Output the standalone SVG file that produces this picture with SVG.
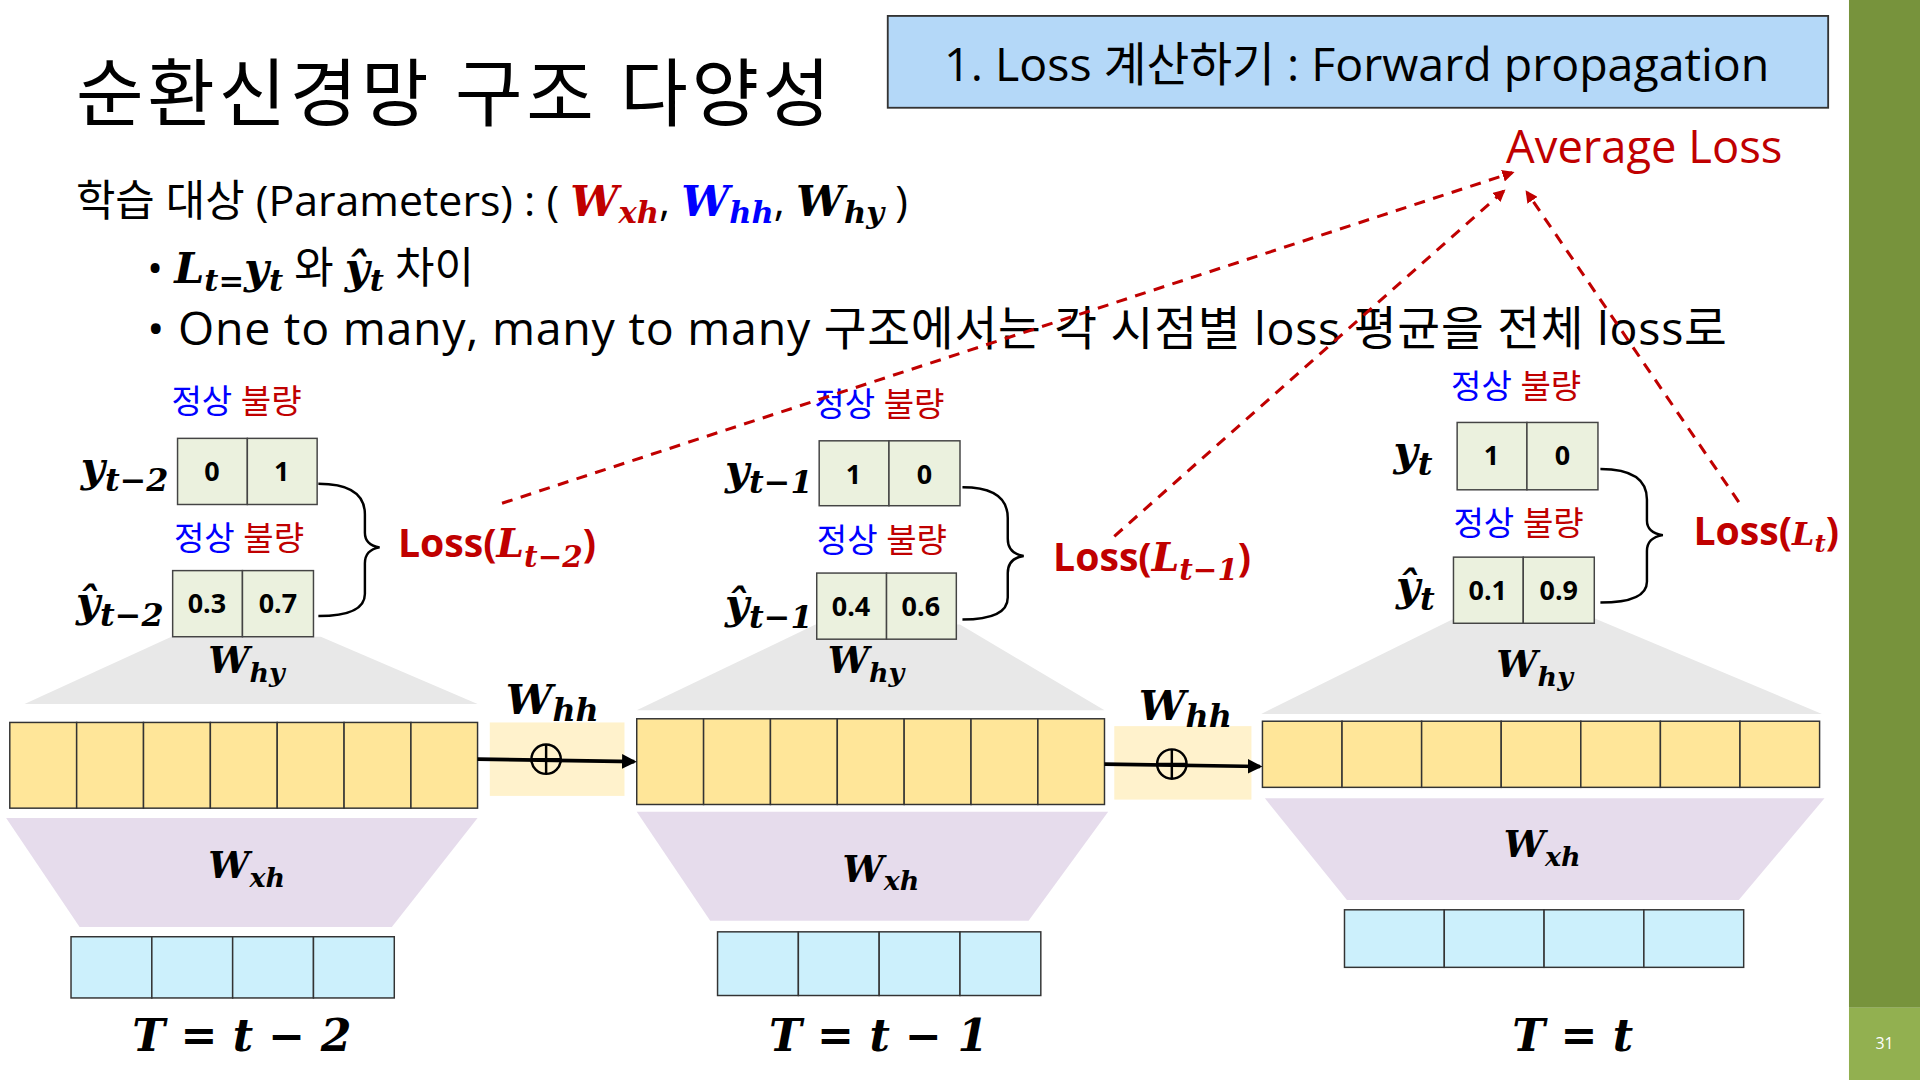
<svg xmlns="http://www.w3.org/2000/svg" width="1920" height="1080" viewBox="0 0 1920 1080">
<defs>
<style>
.k{font-family:"Open Sans","Noto Sans CJK KR",sans-serif}
.m{font-family:"DejaVu Serif",serif;font-weight:bold;font-style:italic}
.c{fill:#ebf1de;stroke:#444;stroke-width:1.2}
.y{fill:#ffe699;stroke:#333;stroke-width:1.2}
.b{fill:#ccf0fc;stroke:#333;stroke-width:1.2}
.n{font-family:"Open Sans",sans-serif;font-weight:bold;font-size:22px;text-anchor:middle}
.br{fill:none;stroke:#000;stroke-width:2}
.d{stroke:#c00000;stroke-width:2.5;stroke-dasharray:9 7;fill:none}
.blue{fill:#0000ff}.red{fill:#c00000}
</style>
<marker id="ar" markerWidth="10" markerHeight="10" refX="8" refY="5" orient="auto" markerUnits="userSpaceOnUse"><path d="M0,0L10,5L0,10z" fill="#c00000"/></marker>
<marker id="ak" markerWidth="12" markerHeight="12" refX="10" refY="6" orient="auto" markerUnits="userSpaceOnUse"><path d="M0,0L12,6L0,12z" fill="#000"/></marker>
</defs>
<rect width="1920" height="1080" fill="#fff"/>
<g transform="scale(1.22449)">
<rect x="1510" y="0" width="58" height="823" fill="#77933c"/>
<rect x="1510" y="823" width="58" height="59" fill="#92b050"/>
<text x="1539" y="857" font-family="Open Sans,sans-serif" font-size="13" fill="#fff" text-anchor="middle">31</text>
<g id="title"><text x="62" y="98" class="k" font-size="60" letter-spacing="3">순환신경망 구조 다양성</text></g>
<g id="header"><rect x="725" y="13" width="768" height="75" fill="#b4d8f8" stroke="#333" stroke-width="1.5"/>
<text x="1108" y="66" class="k" font-size="38" text-anchor="middle">1. Loss 계산하기 : Forward propagation</text></g>
<g id="avgloss"><text x="1230" y="133" class="k red" font-size="37">Average Loss</text></g>
<g id="body">
<text x="62" y="176" class="k" font-size="35">학습 대상 (Parameters) : ( <tspan class="m red">W<tspan font-size="25" dy="6">xh</tspan></tspan><tspan dy="-6">, </tspan><tspan class="m blue">W<tspan font-size="25" dy="6">hh</tspan></tspan><tspan dy="-6">, </tspan><tspan class="m">W<tspan font-size="25" dy="6">hy</tspan></tspan><tspan dy="-6">  )</tspan></text>
<text x="120" y="231" class="k" font-size="35">• <tspan class="m">L<tspan font-size="25" dy="7">t=</tspan><tspan dy="-7">y</tspan><tspan font-size="25" dy="7">t</tspan></tspan><tspan dy="-7"> 와 </tspan><tspan class="m">ŷ<tspan font-size="25" dy="7">t</tspan></tspan><tspan dy="-7"> 차이</tspan></text>
<text x="120" y="282" class="k" font-size="38" letter-spacing="0.6">• One to many, many to many 구조에서는 각 시점별 loss 평균을 전체 loss로</text>
</g>
<g id="step1">
<polygon points="140,520 262,520 390,575 20,575" fill="#e8e8e8"/>
<polygon points="5,668 390,668 320,757 65,757" fill="#e6dcec"/>
<text x="140" y="337" class="k blue" font-size="27">정상 <tspan class="red">불량</tspan></text>
<text x="142" y="449" class="k blue" font-size="27">정상 <tspan class="red">불량</tspan></text>
<text x="66" y="393" class="m" font-size="34">y<tspan font-size="26" dy="8">t−2</tspan></text>
<text x="62" y="503" class="m" font-size="34">ŷ<tspan font-size="26" dy="8">t−2</tspan></text>
<rect class="c" x="145" y="358" width="57" height="54"/><rect class="c" x="202" y="358" width="57" height="54"/>
<text class="n" x="173" y="393">0</text><text class="n" x="230" y="393">1</text>
<rect class="c" x="141" y="466" width="57" height="54"/><rect class="c" x="198" y="466" width="58" height="54"/>
<text class="n" x="169" y="501" font-size="19">0.3</text><text class="n" x="227" y="501" font-size="19">0.7</text>
<path class="br" d="M260,395Q298,395 298,420L298,435Q298,445 310,447Q298,449 298,460L298,485Q298,503 260,503"/>
<text x="325" y="455" class="k red" font-size="32" font-weight="bold">Loss(<tspan class="m">L<tspan font-size="24" dy="8">t−2</tspan></tspan><tspan dy="-8">)</tspan></text>
<text x="170" y="550" class="m" font-size="30">W<tspan font-size="22" dy="7">hy</tspan></text>
<g><rect class="y" x="8" y="590" width="54.6" height="70"/><rect class="y" x="62.6" y="590" width="54.6" height="70"/><rect class="y" x="117.2" y="590" width="54.6" height="70"/><rect class="y" x="171.8" y="590" width="54.6" height="70"/><rect class="y" x="226.4" y="590" width="54.6" height="70"/><rect class="y" x="281" y="590" width="54.6" height="70"/><rect class="y" x="335.6" y="590" width="54.4" height="70"/></g>
<text x="170" y="717" class="m" font-size="30">W<tspan font-size="22" dy="7">xh</tspan></text>
<rect class="b" x="58" y="765" width="66" height="50"/><rect class="b" x="124" y="765" width="66" height="50"/><rect class="b" x="190" y="765" width="66" height="50"/><rect class="b" x="256" y="765" width="66" height="50"/>
<text x="108" y="858" class="m" font-size="36">T =  t  − 2</text>
</g>
<g id="whh1">
<rect x="400" y="590" width="110" height="60" fill="#fff2cc"/>
<text x="413" y="583" class="m" font-size="34">W<tspan font-size="26" dy="6">hh</tspan></text>
</g>
<g id="step2">
<polygon points="666,510 784,510 902,580 520,580" fill="#e8e8e8"/>
<polygon points="520,663 905,663 840,752 580,752" fill="#e6dcec"/>
<text x="665" y="340" class="k blue" font-size="27">정상 <tspan class="red">불량</tspan></text>
<text x="667" y="451" class="k blue" font-size="27">정상 <tspan class="red">불량</tspan></text>
<text x="592" y="395" class="m" font-size="34">y<tspan font-size="26" dy="8">t−1</tspan></text>
<text x="592" y="505" class="m" font-size="34">ŷ<tspan font-size="26" dy="8">t−1</tspan></text>
<rect class="c" x="669" y="360" width="57" height="53"/><rect class="c" x="726" y="360" width="58" height="53"/>
<text class="n" x="697" y="395">1</text><text class="n" x="755" y="395">0</text>
<rect class="c" x="667" y="468" width="57" height="54"/><rect class="c" x="724" y="468" width="57" height="54"/>
<text class="n" x="695" y="503" font-size="19">0.4</text><text class="n" x="752" y="503" font-size="19">0.6</text>
<path class="br" d="M786,398Q823,398 823,423L823,440Q823,452 836,454Q823,456 823,468L823,488Q823,506 786,506"/>
<text x="860" y="466" class="k red" font-size="32" font-weight="bold">Loss(<tspan class="m">L<tspan font-size="24" dy="8">t−1</tspan></tspan><tspan dy="-8">)</tspan></text>
<text x="676" y="550" class="m" font-size="30">W<tspan font-size="22" dy="7">hy</tspan></text>
<g><rect class="y" x="520" y="587" width="54.6" height="70"/><rect class="y" x="574.6" y="587" width="54.6" height="70"/><rect class="y" x="629.2" y="587" width="54.6" height="70"/><rect class="y" x="683.8" y="587" width="54.6" height="70"/><rect class="y" x="738.4" y="587" width="54.6" height="70"/><rect class="y" x="793" y="587" width="54.6" height="70"/><rect class="y" x="847.6" y="587" width="54.4" height="70"/></g>
<text x="688" y="720" class="m" font-size="30">W<tspan font-size="22" dy="7">xh</tspan></text>
<rect class="b" x="586" y="761" width="66" height="52"/><rect class="b" x="652" y="761" width="66" height="52"/><rect class="b" x="718" y="761" width="66" height="52"/><rect class="b" x="784" y="761" width="66" height="52"/>
<text x="628" y="858" class="m" font-size="36">T =  t  − 1</text>
</g>
<g id="whh2">
<rect x="910" y="593" width="112" height="60" fill="#fff2cc"/>
<text x="930" y="588" class="m" font-size="34">W<tspan font-size="26" dy="6">hh</tspan></text>
</g>
<g id="step3">
<polygon points="1188,505 1302,505 1488,583 1030,583" fill="#e8e8e8"/>
<polygon points="1033,652 1490,652 1420,735 1100,735" fill="#e6dcec"/>
<text x="1185" y="325" class="k blue" font-size="27">정상 <tspan class="red">불량</tspan></text>
<text x="1187" y="437" class="k blue" font-size="27">정상 <tspan class="red">불량</tspan></text>
<text x="1138" y="380" class="m" font-size="34">y<tspan font-size="26" dy="8">t</tspan></text>
<text x="1140" y="490" class="m" font-size="34">ŷ<tspan font-size="26" dy="8">t</tspan></text>
<rect class="c" x="1190" y="345" width="57" height="55"/><rect class="c" x="1247" y="345" width="58" height="55"/>
<text class="n" x="1218" y="380">1</text><text class="n" x="1276" y="380">0</text>
<rect class="c" x="1187" y="455" width="57" height="54"/><rect class="c" x="1244" y="455" width="58" height="54"/>
<text class="n" x="1215" y="490" font-size="19">0.1</text><text class="n" x="1273" y="490" font-size="19">0.9</text>
<path class="br" d="M1307,383Q1345,383 1345,408L1345,425Q1345,435 1358,437Q1345,439 1345,450L1345,475Q1345,492 1307,492"/>
<text x="1383" y="445" class="k red" font-size="32" font-weight="bold">Loss(<tspan class="m" font-size="26">L<tspan font-size="20" dy="6">t</tspan></tspan><tspan dy="-6">)</tspan></text>
<text x="1222" y="553" class="m" font-size="30">W<tspan font-size="22" dy="7">hy</tspan></text>
<g><rect class="y" x="1031" y="589" width="65" height="54"/><rect class="y" x="1096" y="589" width="65" height="54"/><rect class="y" x="1161" y="589" width="65" height="54"/><rect class="y" x="1226" y="589" width="65" height="54"/><rect class="y" x="1291" y="589" width="65" height="54"/><rect class="y" x="1356" y="589" width="65" height="54"/><rect class="y" x="1421" y="589" width="65" height="54"/></g>
<text x="1228" y="700" class="m" font-size="30">W<tspan font-size="22" dy="7">xh</tspan></text>
<rect class="b" x="1098" y="743" width="81.5" height="47"/><rect class="b" x="1179.5" y="743" width="81.5" height="47"/><rect class="b" x="1261" y="743" width="81.5" height="47"/><rect class="b" x="1342.5" y="743" width="81.5" height="47"/>
<text x="1235" y="858" class="m" font-size="36">T = t</text>
</g>
<g id="connectors">
<path class="d" d="M410,411L1235,141" marker-end="url(#ar)"/>
<path class="d" d="M910,438L1228,156" marker-end="url(#ar)"/>
<path class="d" d="M1420,410L1247,157" marker-end="url(#ar)"/>
<path d="M390,620L518,622" stroke="#000" stroke-width="3" marker-end="url(#ak)"/>
<path d="M902,624L1029,626" stroke="#000" stroke-width="3" marker-end="url(#ak)"/>
<circle cx="446" cy="620" r="12" fill="none" stroke="#000" stroke-width="2"/><path d="M434,620H458M446,608V632" stroke="#000" stroke-width="2"/>
<circle cx="957" cy="624" r="12" fill="none" stroke="#000" stroke-width="2"/><path d="M945,624H969M957,612V636" stroke="#000" stroke-width="2"/>
</g>
</g>
</svg>
